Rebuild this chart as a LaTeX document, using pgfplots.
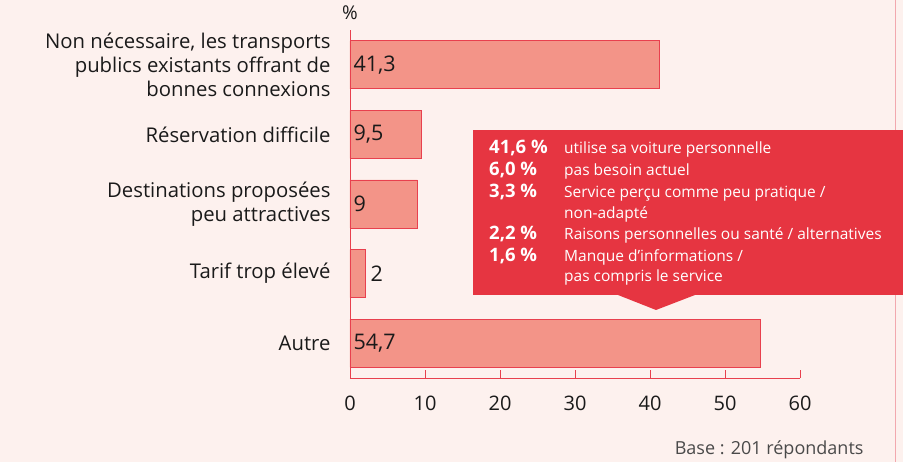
\documentclass[border=0pt]{standalone}
\usepackage{pgfplots}
\pgfplotsset{compat=1.18}
\usepackage{fontspec}
\setmainfont{Open Sans}
\definecolor{bg}{HTML}{FDF1EE}
\definecolor{barfill}{HTML}{F39488}
\definecolor{axisred}{HTML}{E8404E}
\definecolor{callout}{HTML}{E63541}
\definecolor{edge}{HTML}{F2A8AE}
\definecolor{txt}{HTML}{1A1A1A}
\definecolor{basegray}{HTML}{4A4A4A}
\begin{document}
\begin{tikzpicture}[x=1pt,y=1pt]
\path[use as bounding box, fill=bg] (0pt,0pt) rectangle (903pt,462pt);
\draw[edge, line width=1pt] (895pt,0pt) -- (895pt,462pt);
\begin{axis}[
  at={(350pt,84pt)}, anchor=south west,
  scale only axis, width=450pt, height=348pt,
  xmin=0, xmax=60, ymin=-0.5, ymax=4.5,
  xbar, bar width=48pt,
  axis x line=bottom, axis y line=left,
  axis line style={-, draw=axisred, line width=0.8pt},
  xtick={0,10,...,60},
  tick align=inside, major tick length=8pt,
  xtick style={draw=axisred, line width=0.8pt},
  ytick={0,1,2,3,4},
  ytick style={draw=none},
  yticklabels={Autre, Tarif trop élevé, {Destinations proposées\\peu attractives}, Réservation difficile, {Non nécessaire, les transports\\publics existants offrant de\\bonnes connexions}},
  yticklabel style={align=right, font=\fontsize{20.3}{24}\selectfont, text=txt, xshift=-16pt},
  xticklabel style={font=\fontsize{20}{22}\selectfont, text=txt, yshift=-14pt},
  /pgf/number format/assume math mode=true,
  clip=false,
  visualization depends on={x \as \rawx},
  nodes near coords,
  nodes near coords style={/pgf/number format/use comma, /pgf/number format/fixed, font=\fontsize{21.5}{22}\selectfont, text=txt, anchor=west, xshift={(\rawx<5 ? 2 : -7.5*\rawx)*1pt}},
]
\addplot[fill=barfill, draw=axisred, line width=0.6pt] coordinates {
  (54.7,0) (2,1) (9,2) (9.5,3) (41.3,4)
};
\end{axis}
\node[font=\fontsize{19}{20}\selectfont, text=txt] at (350pt,449pt) {\%};
\node[font=\fontsize{18}{19}\selectfont, text=basegray, anchor=east] at (867pt,12pt) {Base : 201 répondants};
% callout
\fill[callout] (473pt,332pt) rectangle (903pt,167pt);
\fill[callout] (618pt,167pt) -- (695pt,167pt) -- (656pt,152pt) -- cycle;
\begin{scope}[every node/.style={font=\fontsize{15.5}{17}\selectfont, text=white, anchor=base west, inner sep=0pt}]
\node[font=\fontsize{18.5}{19}\selectfont\bfseries] at (489pt,308pt) {41,6 \%};
\node at (564pt,308pt) {utilise sa voiture personnelle};
\node[font=\fontsize{18.5}{19}\selectfont\bfseries] at (489pt,286pt) {6,0 \%};
\node at (564pt,286pt) {pas besoin actuel};
\node[font=\fontsize{18.5}{19}\selectfont\bfseries] at (489pt,264pt) {3,3 \%};
\node at (564pt,264pt) {Service perçu comme peu pratique /};
\node at (564pt,243pt) {non-adapté};
\node[font=\fontsize{18.5}{19}\selectfont\bfseries] at (489pt,222pt) {2,2 \%};
\node at (564pt,222pt) {Raisons personnelles ou santé / alternatives};
\node[font=\fontsize{18.5}{19}\selectfont\bfseries] at (489pt,200pt) {1,6 \%};
\node at (564pt,200pt) {Manque d'informations /};
\node at (564pt,180pt) {pas compris le service};
\end{scope}
\end{tikzpicture}
\end{document}
